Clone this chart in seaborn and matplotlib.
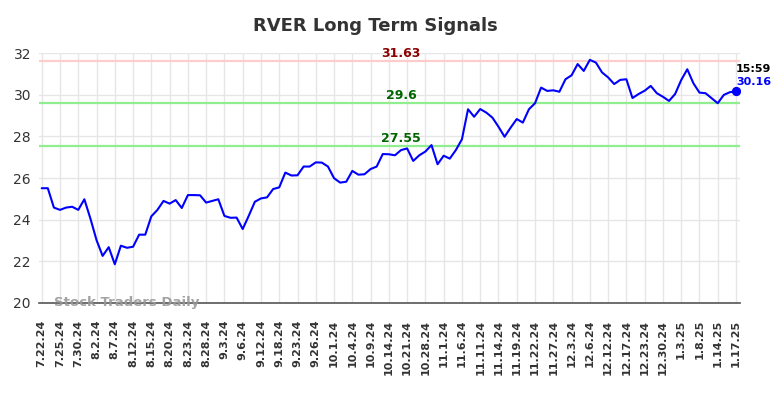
import numpy as np
import pandas as pd
import matplotlib
matplotlib.use("Agg")
import matplotlib.pyplot as plt
import seaborn as sns

sns.set_style("whitegrid")
plt.rcParams['font.family'] = ['DejaVu Sans']

# closing prices, one per trading day
prices = [
    25.51, 25.51, 24.58, 24.47, 24.58, 24.62, 24.47, 24.98, 24.05, 23.02,
    22.26, 22.68, 21.86, 22.75, 22.65, 22.70, 23.28, 23.28, 24.16, 24.47,
    24.90, 24.77, 24.94, 24.56, 25.18, 25.18, 25.17, 24.82, 24.90, 24.98,
    24.18, 24.09, 24.10, 23.55, 24.19, 24.86, 25.02, 25.07, 25.47, 25.55,
    26.26, 26.12, 26.13, 26.55, 26.55, 26.75, 26.74, 26.55, 25.99, 25.78,
    25.82, 26.34, 26.16, 26.18, 26.43, 26.55, 27.15, 27.14, 27.09, 27.34,
    27.42, 26.82, 27.09, 27.27, 27.58, 26.66, 27.07, 26.93, 27.34, 27.86,
    29.30, 28.94, 29.31, 29.14, 28.90, 28.46, 27.98, 28.42, 28.83, 28.66,
    29.30, 29.59, 30.34, 30.18, 30.21, 30.14, 30.74, 30.93, 31.47, 31.14,
    31.67, 31.54, 31.07, 30.83, 30.51, 30.71, 30.74, 29.84, 30.03, 30.19,
    30.42, 30.07, 29.90, 29.70, 30.03, 30.70, 31.22, 30.55, 30.10, 30.07,
    29.83, 29.59, 29.99, 30.12, 30.16,
]

# one label every third trading day
tick_labels = [
    "7.22.24", "7.25.24", "7.30.24", "8.2.24", "8.7.24", "8.12.24", "8.15.24",
    "8.20.24", "8.23.24", "8.28.24", "9.3.24", "9.6.24", "9.12.24", "9.18.24",
    "9.23.24", "9.26.24", "10.1.24", "10.4.24", "10.9.24", "10.14.24",
    "10.21.24", "10.28.24", "11.1.24", "11.6.24", "11.11.24", "11.14.24",
    "11.19.24", "11.22.24", "11.27.24", "12.3.24", "12.6.24", "12.12.24",
    "12.17.24", "12.23.24", "12.30.24", "1.3.25", "1.8.25", "1.14.25", "1.17.25",
]

resistance = 31.63
support_levels = [29.6, 27.55]
last_time = "15:59"

df = pd.DataFrame({"idx": np.arange(len(prices)), "price": prices})

fig = plt.figure(figsize=(7.84, 3.98), dpi=100)
ax = fig.add_axes([0.0501, 0.2387, 0.8938, 0.6281])

# signal levels
ax.axhline(resistance, color="#ffcccc", lw=1.6, zorder=1)
for lvl in support_levels:
    ax.axhline(lvl, color="#90ee90", lw=1.6, zorder=1)

sns.lineplot(data=df, x="idx", y="price", ax=ax, color="#0000ff", lw=1.5, zorder=3)

last_i = len(prices) - 1
ax.scatter([last_i], [prices[-1]], s=32, color="#0000ff", zorder=4)

mid = 59
ax.text(mid, resistance + 0.05, f"{resistance:.2f}", color="#8b0000",
        fontsize=9, fontweight="bold", ha="center", va="bottom")
for lvl in support_levels:
    ax.text(mid, lvl + 0.05, f"{lvl:g}", color="#006400",
            fontsize=9, fontweight="bold", ha="center", va="bottom")

ax.text(last_i, prices[-1] + 1.07, last_time, color="black",
        fontsize=8, fontweight="bold", ha="left", va="center")
ax.text(last_i, prices[-1] + 0.45, f"{prices[-1]:.2f}", color="#0000ff",
        fontsize=8, fontweight="bold", ha="left", va="center")

ax.text(2, 20.0, "Stock Traders Daily", color="#999999", fontsize=9.5,
        fontweight="bold", ha="left", va="center", alpha=0.9, zorder=5)

ax.set_xlim(-0.4, last_i + 0.66)
ax.set_ylim(20, 32)
ax.set_yticks(range(20, 33, 2))
ax.set_xticks(range(0, len(prices), 3))
ax.set_xticklabels(tick_labels, rotation=90, fontsize=8, fontweight="bold",
                   color="#333333")
ax.tick_params(axis="y", labelsize=10, colors="#333333", length=0, pad=6)
ax.tick_params(axis="x", length=0, pad=12)
ax.set_xlabel("")
ax.set_ylabel("")

ax.grid(True, color="#e6e6e6", lw=1)
for side in ["left", "right", "top"]:
    ax.spines[side].set_visible(False)
ax.spines["bottom"].set_color("#555555")
ax.spines["bottom"].set_linewidth(1.2)

fig.text(375 / 784, 1 - 26 / 398, "RVER Long Term Signals", ha="center",
         va="center", fontsize=13, fontweight="bold", color="#333333")

fig.savefig("out.png", dpi=100)
